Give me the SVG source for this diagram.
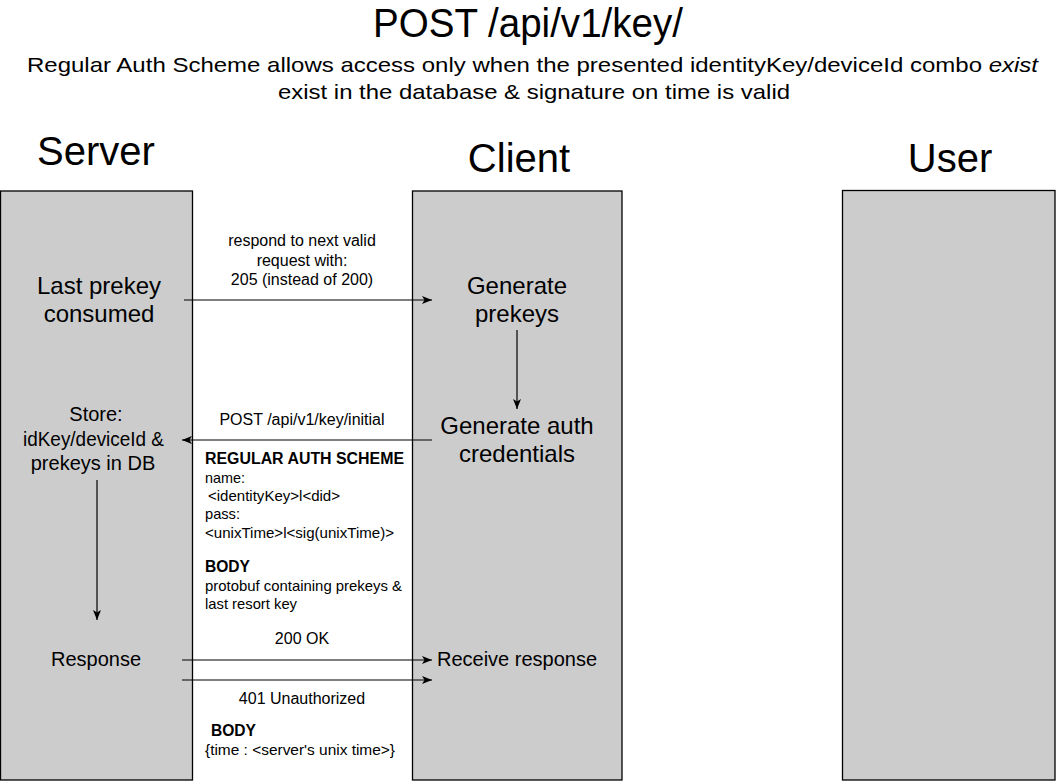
<svg xmlns="http://www.w3.org/2000/svg" width="1057" height="782" viewBox="0 0 1057 782">
<style>
text{font-family:"Liberation Sans",Arial,sans-serif;fill:#000}
.lane{fill:#cccccc;stroke:#000;stroke-width:1.3}
.hd{font-size:40px;text-anchor:middle}
.nd{font-size:24px;text-anchor:middle}
.nd2{font-size:20px;text-anchor:middle}
.lb{font-size:16px}
.sm{font-size:14.5px}
.bd{font-size:16px;font-weight:bold}
.c{text-anchor:middle}
.conn line{stroke:#000;stroke-width:1.2;marker-end:url(#ah)}
</style>
<defs>
<marker id="ah" viewBox="0 0 10 8" refX="10" refY="4" markerWidth="10" markerHeight="8" markerUnits="userSpaceOnUse" orient="auto">
<path d="M0,0 L10,4 L0,8 L2.5,4 Z" fill="#000"/>
</marker>
</defs>
<rect width="1057" height="782" fill="#fff"/>
<g id="title">
<text x="528" y="37" font-size="40" text-anchor="middle" textLength="310" lengthAdjust="spacingAndGlyphs">POST /api/v1/key/</text>
<text x="532.5" y="72" font-size="21" text-anchor="middle" textLength="1011" lengthAdjust="spacingAndGlyphs">Regular Auth Scheme allows access only when the presented identityKey/deviceId combo <tspan font-style="italic">exist</tspan></text>
<text x="534" y="99" font-size="21" text-anchor="middle" textLength="512" lengthAdjust="spacingAndGlyphs">exist in the database &amp; signature on time is valid</text>
</g>
<g id="server">
<rect class="lane" x="0.5" y="191" width="192" height="589"/>
<text class="hd" x="96" y="165">Server</text>
</g>
<g id="client">
<rect class="lane" x="412.5" y="191" width="209.5" height="589"/>
<text class="hd" x="519" y="172">Client</text>
</g>
<g id="user">
<rect class="lane" x="842.5" y="190.5" width="212.5" height="589.5"/>
<text class="hd" x="950" y="172">User</text>
</g>
<g id="last-prekey">
<text class="nd" x="99" y="294">Last prekey</text>
<text class="nd" x="99" y="322">consumed</text>
</g>
<g id="generate-prekeys">
<text class="nd" x="517" y="294">Generate</text>
<text class="nd" x="517" y="322">prekeys</text>
</g>
<g id="generate-auth">
<text class="nd" x="517" y="434">Generate auth</text>
<text class="nd" x="517" y="462">credentials</text>
</g>
<g id="store">
<text class="nd2" x="96" y="421">Store:</text>
<text class="nd2" x="93.5" y="446" textLength="141" lengthAdjust="spacingAndGlyphs">idKey/deviceId &amp;</text>
<text class="nd2" x="93" y="470">prekeys in DB</text>
</g>
<g id="response">
<text class="nd2" x="96" y="666">Response</text>
</g>
<g id="receive-response">
<text class="nd2" x="517" y="666">Receive response</text>
</g>
<g class="conn" id="connectors">
<line x1="184" y1="300" x2="432" y2="300"/>
<line x1="517" y1="330" x2="517" y2="409"/>
<line x1="432" y1="440" x2="182" y2="440"/>
<line x1="97" y1="480" x2="97" y2="620"/>
<line x1="182" y1="660" x2="432" y2="660"/>
<line x1="182" y1="680" x2="432" y2="680"/>
</g>
<g id="labels">
<text class="lb c" x="302" y="246">respond to next valid</text>
<text class="lb c" x="302" y="266">request with:</text>
<text class="lb c" x="302" y="285">205 (instead of 200)</text>
<text class="lb c" x="302" y="425">POST /api/v1/key/initial</text>
<text class="bd" x="205" y="464" textLength="199" lengthAdjust="spacingAndGlyphs">REGULAR AUTH SCHEME</text>
<text class="sm" x="205" y="483" textLength="40" lengthAdjust="spacingAndGlyphs">name:</text>
<text class="sm" x="208" y="501" textLength="132" lengthAdjust="spacingAndGlyphs">&lt;identityKey&gt;l&lt;did&gt;</text>
<text class="sm" x="205" y="519" textLength="35" lengthAdjust="spacingAndGlyphs">pass:</text>
<text class="sm" x="205" y="538" textLength="189" lengthAdjust="spacingAndGlyphs">&lt;unixTime&gt;l&lt;sig(unixTime)&gt;</text>
<text class="bd" x="205" y="572" textLength="45" lengthAdjust="spacingAndGlyphs">BODY</text>
<text class="sm" x="205" y="591" textLength="197" lengthAdjust="spacingAndGlyphs">protobuf containing prekeys &amp;</text>
<text class="sm" x="205" y="609" textLength="92" lengthAdjust="spacingAndGlyphs">last resort key</text>
<text class="lb c" x="302" y="644">200 OK</text>
<text class="lb c" x="302" y="704">401 Unauthorized</text>
<text class="bd" x="211" y="736" textLength="45" lengthAdjust="spacingAndGlyphs">BODY</text>
<text class="sm" x="205" y="755" textLength="190" lengthAdjust="spacingAndGlyphs">{time : &lt;server's unix time&gt;}</text>
</g>
</svg>
